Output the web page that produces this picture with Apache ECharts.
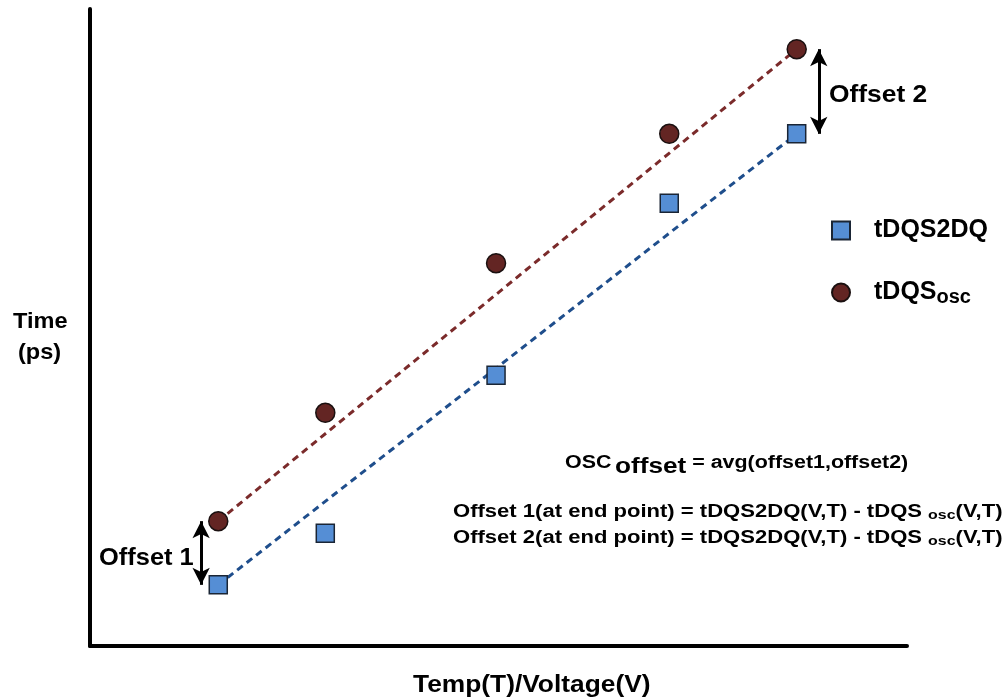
<!DOCTYPE html>
<html>
<head>
<meta charset="utf-8">
<script src="https://cdn.jsdelivr.net/npm/echarts@6/dist/echarts.min.js"></script>
<style>
  html, body { margin: 0; background: #fff; }
  #chart { width: 1003px; height: 698px; }
</style>
</head>
<body>
<div id="chart"></div>
<script>
// measured points, x and y in 0..100 units of the plot area
var xPos = [15.7, 28.8, 49.7, 70.9, 86.5]
var dqValues = [9.6, 17.7, 42.5, 69.5, 80.4]
var oscValues = [19.6, 36.6, 60.1, 80.4, 93.7]
var seriesNames = ['tDQS2DQ', 'tDQSosc']

var FONT = '"Liberation Sans", Arial, sans-serif'
var last = xPos.length - 1

function pairs(vals) {
  return xPos.map(function (x, i) { return [x, vals[i]] })
}
function fitLine(vals) {
  return [[xPos[0], vals[0]], [xPos[last], vals[last]]]
}
// plain text block, stretched a little sideways like the original drawing
function label(x, y, text, size, sx) {
  return {
    type: 'text', x: x, y: y, scaleX: sx || 1,
    style: { text: text, font: 'bold ' + size + 'px ' + FONT, fill: '#000', verticalAlign: 'top' }
  }
}

var chartDom = document.getElementById('chart')
var myChart = echarts.init(chartDom)
var option = {
  animation: false,
  grid: { left: 90, top: 9, right: 96, bottom: 52 },
  xAxis: {
    type: 'value', min: 0, max: 100,
    axisLine: { show: true, lineStyle: { color: '#000', width: 4 } },
    axisTick: { show: false }, axisLabel: { show: false }, splitLine: { show: false }
  },
  yAxis: {
    type: 'value', min: 0, max: 100,
    axisLine: { show: true, lineStyle: { color: '#000', width: 4 } },
    axisTick: { show: false }, axisLabel: { show: false }, splitLine: { show: false }
  },
  legend: {
    data: seriesNames,
    orient: 'vertical',
    left: 826, top: 213,
    itemWidth: 18, itemHeight: 18, itemGap: 37,
    textStyle: {
      fontFamily: FONT, fontWeight: 'bold', fontSize: 25, color: '#000',
      padding: [0, 0, 0, 19],
      rich: {
        m: { fontFamily: FONT, fontWeight: 'bold', fontSize: 25, color: '#000' },
        s: { fontFamily: FONT, fontWeight: 'bold', fontSize: 20, color: '#000', padding: [10, 0, 0, 0] }
      }
    },
    formatter: function (name) {
      return name === 'tDQSosc' ? '{m|tDQS}{s|osc}' : '{m|' + name + '}'
    }
  },
  series: [
    {
      type: 'line',
      data: fitLine(dqValues),
      symbol: 'none',
      lineStyle: { color: '#1f4e8c', width: 3, type: [7, 5] },
      silent: true,
      z: 1,
      markLine: {
        silent: true,
        symbol: ['arrow', 'arrow'],
        symbolSize: [13, 17],
        label: { show: false },
        lineStyle: { color: '#000', width: 3, type: 'solid' },
        data: [
          [{ coord: [xPos[0] - 2.1, oscValues[0]] }, { coord: [xPos[0] - 2.1, dqValues[0]] }],
          [{ coord: [xPos[last] + 2.7, oscValues[last]] }, { coord: [xPos[last] + 2.7, dqValues[last]] }]
        ]
      }
    },
    {
      type: 'line',
      data: fitLine(oscValues),
      symbol: 'none',
      lineStyle: { color: '#7b2b2b', width: 3, type: [7, 5] },
      silent: true,
      z: 1
    },
    {
      name: 'tDQS2DQ',
      type: 'scatter',
      data: pairs(dqValues),
      symbol: 'rect',
      symbolSize: 18,
      itemStyle: { color: '#558ed5', borderColor: '#1a2535', borderWidth: 1.5, opacity: 1 },
      z: 3
    },
    {
      name: 'tDQSosc',
      type: 'scatter',
      data: pairs(oscValues),
      symbol: 'circle',
      symbolSize: 19,
      itemStyle: { color: '#632523', borderColor: '#1a1010', borderWidth: 1.5, opacity: 1 },
      z: 3
    }
  ],
  graphic: [
    label(13, 311, 'Time', 22, 1.07),
    label(18, 342, '(ps)', 22, 1.07),
    label(413, 674, 'Temp(T)/Voltage(V)', 23, 1.145),
    label(99, 546, 'Offset 1', 24, 1.06),
    label(829, 83, 'Offset 2', 24, 1.1),
    {
      type: 'text', x: 565, y: 448, scaleX: 1.19,
      style: {
        text: '{a|OSC}{b|offset}{a| = avg(offset1,offset2)}',
        verticalAlign: 'top',
        rich: {
          a: { font: 'bold 18px ' + FONT, fill: '#000' },
          b: { font: 'bold 22px ' + FONT, fill: '#000', padding: [8, 0, 0, 3] }
        }
      }
    },
    {
      type: 'text', x: 453, y: 503, scaleX: 1.225,
      style: {
        text: '{a|Offset 1(at end point) = tDQS2DQ(V,T) - tDQS }{s|osc}{a|(V,T)}',
        verticalAlign: 'top',
        rich: {
          a: { font: 'bold 18px ' + FONT, fill: '#000' },
          s: { font: 'bold 13px ' + FONT, fill: '#000', padding: [6, 0, 0, 0] }
        }
      }
    },
    {
      type: 'text', x: 453, y: 529, scaleX: 1.225,
      style: {
        text: '{a|Offset 2(at end point) = tDQS2DQ(V,T) - tDQS }{s|osc}{a|(V,T)}',
        verticalAlign: 'top',
        rich: {
          a: { font: 'bold 18px ' + FONT, fill: '#000' },
          s: { font: 'bold 13px ' + FONT, fill: '#000', padding: [6, 0, 0, 0] }
        }
      }
    }
  ]
}
option && myChart.setOption(option)
</script>
</body>
</html>
